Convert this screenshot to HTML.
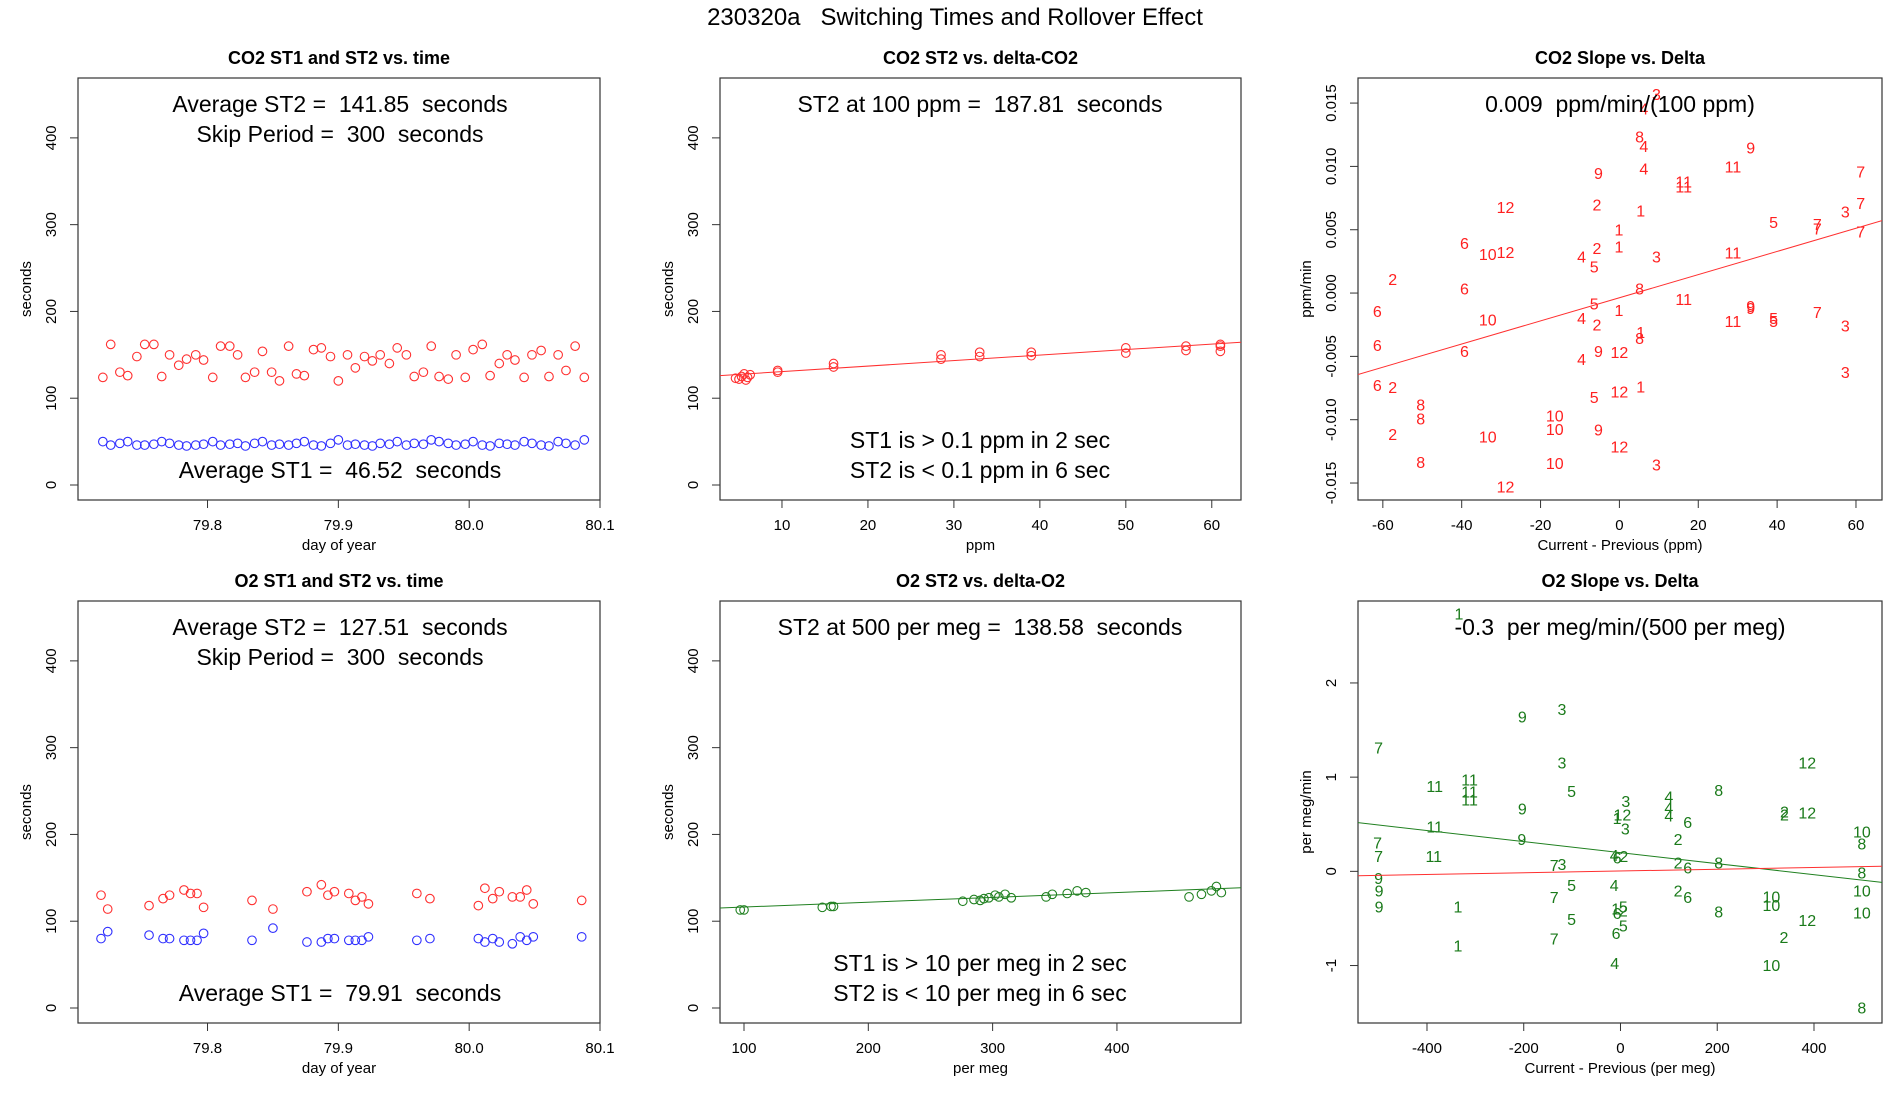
<!DOCTYPE html>
<html><head><meta charset="utf-8"><style>
body{margin:0;background:#fff;}
svg text{font-family:"Liberation Sans",sans-serif;white-space:pre;}
</style></head><body>
<svg id="chart" width="1900" height="1100" xmlns="http://www.w3.org/2000/svg" xml:space="preserve">
<text x="955" y="25" text-anchor="middle" font-size="24">230320a   Switching Times and Rollover Effect</text>
</svg>
<script>
// ---- CO2 time panel data ----
const co2Times = [79.720,79.726,79.733,79.739,79.746,79.752,79.759,79.765,79.771,79.778,79.784,79.791,79.797,79.804,79.810,79.817,79.823,79.829,79.836,79.842,79.849,79.855,79.862,79.868,79.874,79.881,79.887,79.894,79.900,79.907,79.913,79.920,79.926,79.932,79.939,79.945,79.952,79.958,79.965,79.971,79.977,79.984,79.990,79.997,80.003,80.010,80.016,80.023,80.029,80.035,80.042,80.048,80.055,80.061,80.068,80.074,80.081,80.088];
const co2ST2 = [124,162,130,126,148,162,162,125,150,138,145,150,144,124,160,160,150,124,130,154,130,120,160,128,126,156,158,148,120,150,135,148,143,150,140,158,150,125,130,160,125,122,150,124,156,162,126,140,150,144,124,150,155,125,150,132,160,124];
const co2ST1 = [50,46,48,50,46,46,47,50,48,46,45,46,47,50,46,47,48,45,48,50,46,47,46,48,50,46,45,48,52,46,47,46,45,48,47,50,46,48,47,52,50,48,46,47,50,46,45,48,47,46,50,48,46,45,50,48,46,52];
// ---- O2 time panel data ----
const o2Times = [79.7186,79.7237,79.7553,79.766,79.771,79.782,79.787,79.792,79.797,79.834,79.850,79.876,79.887,79.892,79.897,79.908,79.913,79.918,79.923,79.960,79.970,80.007,80.012,80.018,80.023,80.033,80.039,80.044,80.049,80.086];
const o2ST2 = [130,114,118,126,130,136,132,132,116,124,114,134,142,130,134,132,124,128,120,132,126,118,138,126,134,128,128,136,120,124];
const o2ST1 = [80,88,84,80,80,78,78,78,86,78,92,76,76,80,80,78,78,78,82,78,80,80,76,80,76,74,82,78,82,82];
// ---- CO2 ST2 vs delta ----
const co2Delta = [5,5.3,5.6,6,6.3,9.5,9.5,16,16,28.5,28.5,33,33,39,39,50,50,57,57,61,61,61,5.8,4.6];
const co2DeltaST2 = [122,125,128,124,127,130,132,136,140,145,150,148,153,149,153,152,158,155,160,154,160,162,121,123];
const co2FitCoef = [124.3, 0.635];
// ---- O2 ST2 vs delta ----
const o2Delta = [97,100,163,170,172,276,285,290,293,297,302,305,310,315,343,348,360,368,375,458,468,476,480,484];
const o2DeltaST2 = [113,113,116,117,117,123,125,124,126,127,130,128,131,127,128,131,132,135,133,128,131,135,140,133];
const o2FitCoef = [110.8, 0.0555];
// ---- CO2 slope vs delta ----
const co2SlopeLabels = ['6','6','6','2','2','2','8','8','8','6','6','6','10','12','12','10','10','10','10','10','12','4','4','4','5','5','5','2','2','2','9','9','9','1','1','1','12','12','12','1','1','1','8','4','4','4','8','8','3','3','3','11','11','11','11','11','11','9','9','9','5','5','5','7','7','7','3','3','3','7','7','7'];
const co2SlopeX = [-61.4,-61.4,-61.4,-57.5,-57.5,-57.5,-50.4,-50.4,-50.4,-39.3,-39.3,-39.3,-33.4,-28.9,-28.9,-33.4,-33.4,-16.4,-16.4,-16.4,-28.9,-9.6,-9.6,-9.6,-6.4,-6.4,-6.4,-5.7,-5.7,-5.7,-5.3,-5.3,-5.3,-0.1,-0.1,-0.1,0,0,0,5.4,5.4,5.4,5.1,6.2,6.2,6.2,5.1,5.1,9.4,9.4,9.4,16.3,16.3,16.3,28.8,28.8,28.8,33.3,33.3,33.3,39.1,39.1,39.1,50.2,50.2,50.2,57.3,57.3,57.3,61.2,61.2,61.2];
const co2SlopeY = [-0.00147,-0.00416,-0.00728,0.00107,-0.00746,-0.01116,-0.00884,-0.00994,-0.01339,0.00391,0.00031,-0.00462,0.00306,0.00321,0.00676,-0.00214,-0.01138,-0.00969,-0.01079,-0.01346,-0.01532,0.00284,-0.00199,-0.00526,0.00205,-0.00086,-0.00826,0.00694,0.00352,-0.00254,0.00942,-0.00462,-0.01083,0.00498,0.00364,-0.00138,-0.00471,-0.00783,-0.01217,0.00648,-0.00312,-0.0074,0.01232,0.01156,0.00979,0.01453,0.00031,-0.00358,0.01569,0.00284,-0.01358,0.00878,0.00838,-0.00052,0.00994,0.00318,-0.00226,0.01144,-0.00107,-0.00122,0.00557,-0.00199,-0.00223,0.00541,0.00505,-0.00153,0.00639,-0.0026,-0.00627,0.00957,0.00706,0.00483];
const co2SlopeFit = [-0.00037, 0.0000914];
// ---- O2 slope vs delta ----
const o2SlopeLabels = ['1','7','7','7','9','9','9','11','11','11','11','11','11','1','1','9','9','9','3','3','7','3','5','5','5','7','7','4','6','2','4','4','1','12','3','3','1','5','2','6','5','6','4','4','4','6','2','2','6','2','6','8','8','8','2','2','2','12','12','12','10','10','10','10','8','8','10','10','8'];
const o2SlopeX = [-334,-500,-502,-500,-500,-499,-499,-384,-384,-386,-312,-312,-312,-336,-336,-203,-203,-204,-121,-121,-137,-121,-101,-101,-101,-137,-137,-13,-7,7,-13,-12,-7,4,10,11,-10,6,6,-7,6,-9,100,100,100,139,119,119,139,119,139,203,203,203,339,339,338,386,386,386,312,312,312,499,499,499,499,499,499];
const o2SlopeY = [2.73,1.31,0.30,0.16,-0.075,-0.21,-0.38,0.90,0.47,0.16,0.97,0.84,0.76,-0.38,-0.79,1.64,0.66,0.34,1.72,1.15,0.06,0.075,0.845,-0.15,-0.51,-0.28,-0.72,0.17,0.14,0.16,-0.15,-0.98,0.56,0.60,0.45,0.74,-0.40,-0.38,-0.42,-0.45,-0.58,-0.66,0.79,0.67,0.59,0.52,0.34,0.09,0.036,-0.21,-0.28,0.86,0.09,-0.43,0.63,0.60,-0.70,1.15,0.62,-0.52,-0.27,-0.36,-1.00,0.42,0.29,-0.02,-0.21,-0.44,-1.45];
const o2SlopeFit = [0.199, -0.000586];
const o2RefFit = [0.0036, 0.000093];
const secTicks = [0,100,200,300,400];
const timeTicks = [79.8,79.9,80.0,80.1];

const NS='http://www.w3.org/2000/svg';
const svg=document.getElementById('chart');
function mk(tag,attrs,parent){const e=document.createElementNS(NS,tag);for(const k in attrs)e.setAttribute(k,attrs[k]);(parent||svg).appendChild(e);return e;}
function panel(name,L,T,R,B,xd,yd,title,xlab,ylab,xt,yt,xfmt,yfmt){
  const g=mk('g',{});
  
  
  const sx=v=>L+(v-xd[0])/(xd[1]-xd[0])*(R-L);
  const sy=v=>B-(v-yd[0])/(yd[1]-yd[0])*(B-T);
  const box=mk('rect',{x:L,y:T,width:R-L,height:B-T,fill:'none',stroke:'#333','stroke-width':1.2},g);
  
  
  const t=mk('text',{x:(L+R)/2,y:T-14,'text-anchor':'middle','font-size':18,'font-weight':'bold'},g);t.textContent=title;
  
  
  const xg=mk('g',{},g);
  
  
  xt.forEach(v=>{const x=sx(v);mk('line',{x1:x,x2:x,y1:B,y2:B+8,stroke:'#333'},xg);
    const tx=mk('text',{x:x,y:B+30,'text-anchor':'middle','font-size':15},xg);tx.textContent=xfmt(v);});
  const xl=mk('text',{x:(L+R)/2,y:B+50,'text-anchor':'middle','font-size':15},g);xl.textContent=xlab;
  
  
  const yg=mk('g',{},g);
  
  
  yt.forEach(v=>{const y=sy(v);mk('line',{x1:L,x2:L-8,y1:y,y2:y,stroke:'#333'},yg);
    const ty=mk('text',{x:L-22,y:y,'text-anchor':'middle','font-size':15,transform:`rotate(-90 ${L-22} ${y})`},yg);ty.textContent=yfmt(v);});
  const yl=mk('text',{x:L-47,y:(T+B)/2,'text-anchor':'middle','font-size':15,transform:`rotate(-90 ${L-47} ${(T+B)/2})`},g);yl.textContent=ylab;
  
  
  const cp='cp'+name;const c=mk('clipPath',{id:cp},g);mk('rect',{x:L,y:T,width:R-L,height:B-T},c);
  const plot=mk('g',{'clip-path':`url(#${cp})`},g);
  return {g,plot,sx,sy,L,R,T,B};
}
function note(p,txt,x,y,name,size){const e=mk('text',{x:x,y:y,'text-anchor':'middle','font-size':size||23},p.g);e.textContent=txt;
  
  }
function circles(p,xs,ys,color,name){xs.forEach((v,i)=>{const c=mk('circle',{cx:p.sx(v),cy:p.sy(ys[i]),r:4.3,fill:'none',stroke:color,'stroke-width':1.1},p.plot);
  
  });}
function fit(p,coef,xd,color,name){const l=mk('line',{x1:p.sx(xd[0]),y1:p.sy(coef[0]+coef[1]*xd[0]),x2:p.sx(xd[1]),y2:p.sy(coef[0]+coef[1]*xd[1]),stroke:color,'stroke-width':1},p.plot);
  
  }
function labels(p,lab,xs,ys,color,name){lab.forEach((s,i)=>{const e=mk('text',{x:p.sx(xs[i]),y:p.sy(ys[i])+5.5,'text-anchor':'middle','font-size':16,fill:color},p.plot);e.textContent=s;
  
  });}
const f0=v=>String(v), f1=v=>v.toFixed(1), f3=v=>v.toFixed(3);
const secD=[-17.3,469];
// Panel 1
const timeD=[79.701,80.1];
let p=panel('co2-time-panel',78,78,600,500,timeD,secD,'CO2 ST1 and ST2 vs. time','day of year','seconds',timeTicks,secTicks,f1,f0);
circles(p,co2Times,co2ST2,'#ff3030','st2-point');circles(p,co2Times,co2ST1,'#3030ff','st1-point');
note(p,'Average ST2 =  141.85  seconds',340,112,'avg-st2-note');note(p,'Skip Period =  300  seconds',340,142,'skip-period-note');note(p,'Average ST1 =  46.52  seconds',340,478,'avg-st1-note');
// Panel 2
const co2dD=[2.79,63.4];
p=panel('co2-st2-delta-panel',720,78,1241,500,co2dD,secD,'CO2 ST2 vs. delta-CO2','ppm','seconds',[10,20,30,40,50,60],secTicks,f0,f0);
circles(p,co2Delta,co2DeltaST2,'#ff3030','st2-point');fit(p,co2FitCoef,co2dD,'#ff3030','fit-line');
note(p,'ST2 at 100 ppm =  187.81  seconds',980,112,'st2-100ppm-note');note(p,'ST1 is > 0.1 ppm in 2 sec',980,448,'st1-note');note(p,'ST2 is < 0.1 ppm in 6 sec',980,478,'st2-note');
// Panel 3
const co2sD=[-66.3,66.6];
p=panel('co2-slope-panel',1358,78,1882,500,co2sD,[-0.01634,0.01698],'CO2 Slope vs. Delta','Current - Previous (ppm)','ppm/min',[-60,-40,-20,0,20,40,60],[-0.015,-0.01,-0.005,0,0.005,0.01,0.015],f0,f3);
labels(p,co2SlopeLabels,co2SlopeX,co2SlopeY,'#ff2020','month-label');fit(p,co2SlopeFit,co2sD,'#ff3030','fit-line');
note(p,'0.009  ppm/min/(100 ppm)',1620,112,'slope-note');
// Panel 4
p=panel('o2-time-panel',78,601,600,1023,timeD,secD,'O2 ST1 and ST2 vs. time','day of year','seconds',timeTicks,secTicks,f1,f0);
circles(p,o2Times,o2ST2,'#ff3030','st2-point');circles(p,o2Times,o2ST1,'#3030ff','st1-point');
note(p,'Average ST2 =  127.51  seconds',340,635,'avg-st2-note');note(p,'Skip Period =  300  seconds',340,665,'skip-period-note');note(p,'Average ST1 =  79.91  seconds',340,1001,'avg-st1-note');
// Panel 5
const o2dD=[80.7,499.8];
p=panel('o2-st2-delta-panel',720,601,1241,1023,o2dD,secD,'O2 ST2 vs. delta-O2','per meg','seconds',[100,200,300,400],secTicks,f0,f0);
circles(p,o2Delta,o2DeltaST2,'#208020','st2-point');fit(p,o2FitCoef,o2dD,'#208020','fit-line');
note(p,'ST2 at 500 per meg =  138.58  seconds',980,635,'st2-500permeg-note');note(p,'ST1 is > 10 per meg in 2 sec',980,971,'st1-note');note(p,'ST2 is < 10 per meg in 6 sec',980,1001,'st2-note');
// Panel 6
const o2sD=[-542.6,540.6];
p=panel('o2-slope-panel',1358,601,1882,1023,o2sD,[-1.61,2.87],'O2 Slope vs. Delta','Current - Previous (per meg)','per meg/min',[-400,-200,0,200,400],[-1,0,1,2],f0,f0);
labels(p,o2SlopeLabels,o2SlopeX,o2SlopeY,'#1a7a1a','month-label');fit(p,o2SlopeFit,o2sD,'#208020','fit-line');fit(p,o2RefFit,o2sD,'#ff3030','reference-line');
note(p,'-0.3  per meg/min/(500 per meg)',1620,635,'slope-note');
</script>
</body></html>
